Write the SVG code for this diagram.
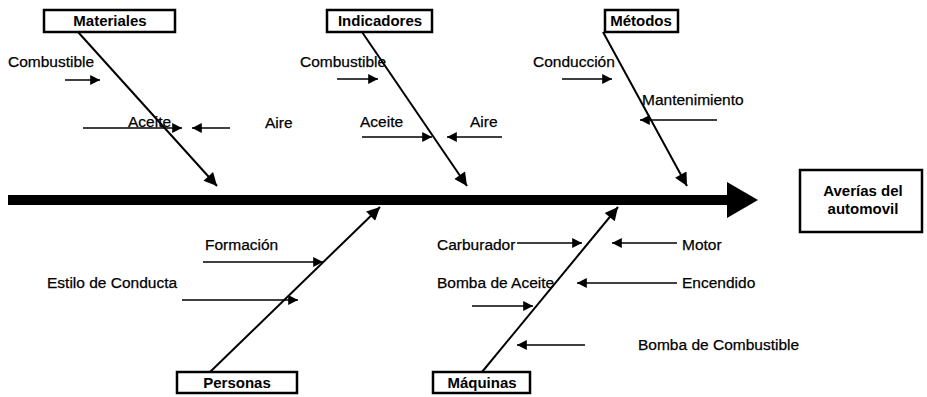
<svg xmlns="http://www.w3.org/2000/svg" width="927" height="397" viewBox="0 0 927 397">
  <defs>
    <marker id="bigHead" viewBox="0 0 10 10" refX="10" refY="5" markerWidth="8" markerHeight="6.5" markerUnits="strokeWidth" orient="auto">
      <path d="M0,0 L10,5 L0,10 z" fill="#000"/>
    </marker>
    <marker id="smallHead" viewBox="0 0 10 10" refX="10" refY="5" markerWidth="9" markerHeight="7" markerUnits="strokeWidth" orient="auto">
      <path d="M0,0 L10,5 L0,10 z" fill="#000"/>
    </marker>
    <style>
      .box { fill: #fff; stroke: #000; stroke-width: 2.5; }
      .boxText { font-family: "Liberation Sans", Arial, sans-serif; font-weight: bold; font-size: 15px; text-anchor: middle; fill: #000; }
      .label { font-family: "Liberation Sans", Arial, sans-serif; font-size: 15.5px; fill: #000; stroke: #000; stroke-width: 0.25; }
      .bone { stroke: #000; stroke-width: 2; fill: none; marker-end: url(#bigHead); }
      .sub { stroke: #000; stroke-width: 1.4; fill: none; marker-end: url(#smallHead); }
    </style>
  </defs>

  <!-- main spine -->
  <g id="spine">
    <rect x="8" y="195" width="721" height="10" fill="#000"/>
    <path d="M727,182 L758,200 L727,218 z" fill="#000"/>
  </g>

  <!-- category bones and cause arrows -->
  <g id="connectors">
    <line class="bone" x1="78" y1="32" x2="217" y2="186"/>
    <line class="bone" x1="362" y1="32" x2="467" y2="186"/>
    <line class="bone" x1="603" y1="32" x2="687" y2="186"/>
    <line class="bone" x1="210" y1="372" x2="380" y2="207"/>
    <line class="bone" x1="482" y1="372" x2="618" y2="207"/>

    <line class="sub" x1="65" y1="80" x2="100" y2="80"/>
    <line class="sub" x1="83" y1="128" x2="182" y2="128"/>
    <line class="sub" x1="230" y1="128" x2="192" y2="128"/>
    <line class="sub" x1="337" y1="79" x2="378" y2="79"/>
    <line class="sub" x1="362" y1="137" x2="432" y2="137"/>
    <line class="sub" x1="502" y1="137" x2="447" y2="137"/>
    <line class="sub" x1="562" y1="79" x2="612" y2="79"/>
    <line class="sub" x1="717" y1="120" x2="640" y2="120"/>
    <line class="sub" x1="203" y1="262" x2="323" y2="262"/>
    <line class="sub" x1="182" y1="300" x2="298" y2="300"/>
    <line class="sub" x1="517" y1="243" x2="582" y2="243"/>
    <line class="sub" x1="677" y1="243" x2="612" y2="243"/>
    <line class="sub" x1="472" y1="306" x2="533" y2="306"/>
    <line class="sub" x1="677" y1="283" x2="577" y2="283"/>
    <line class="sub" x1="585" y1="345" x2="517" y2="345"/>
  </g>

  <!-- category heads -->
  <g id="materiales">
    <rect class="box" x="44" y="10" width="131" height="22"/>
    <text class="boxText" x="110" y="26">Materiales</text>
  </g>
  <g id="indicadores">
    <rect class="box" x="327" y="10" width="105" height="22"/>
    <text class="boxText" x="380" y="26">Indicadores</text>
  </g>
  <g id="metodos">
    <rect class="box" x="605" y="10" width="73" height="22"/>
    <text class="boxText" x="641" y="26">Métodos</text>
  </g>
  <g id="personas">
    <rect class="box" x="177" y="372" width="120" height="21"/>
    <text class="boxText" x="237" y="388">Personas</text>
  </g>
  <g id="maquinas">
    <rect class="box" x="433" y="372" width="97" height="21"/>
    <text class="boxText" x="482" y="388">Máquinas</text>
  </g>
  <g id="efecto">
    <rect class="box" x="800" y="170" width="122" height="62"/>
    <text class="boxText" x="863" y="196">Averías del</text>
    <text class="boxText" x="863" y="214">automovil</text>
  </g>

  <!-- cause labels -->
  <g id="causas">
    <text class="label" x="8" y="67">Combustible</text>
    <text class="label" x="128" y="127">Aceite</text>
    <text class="label" x="265" y="128">Aire</text>
    <text class="label" x="300" y="67">Combustible</text>
    <text class="label" x="360" y="127">Aceite</text>
    <text class="label" x="470" y="127">Aire</text>
    <text class="label" x="533" y="67">Conducción</text>
    <text class="label" x="642" y="105">Mantenimiento</text>
    <text class="label" x="205" y="250">Formación</text>
    <text class="label" x="47" y="288">Estilo de Conducta</text>
    <text class="label" x="437" y="250">Carburador</text>
    <text class="label" x="682" y="250">Motor</text>
    <text class="label" x="437" y="288">Bomba de Aceite</text>
    <text class="label" x="682" y="288">Encendido</text>
    <text class="label" x="638" y="350">Bomba de Combustible</text>
  </g>
</svg>
